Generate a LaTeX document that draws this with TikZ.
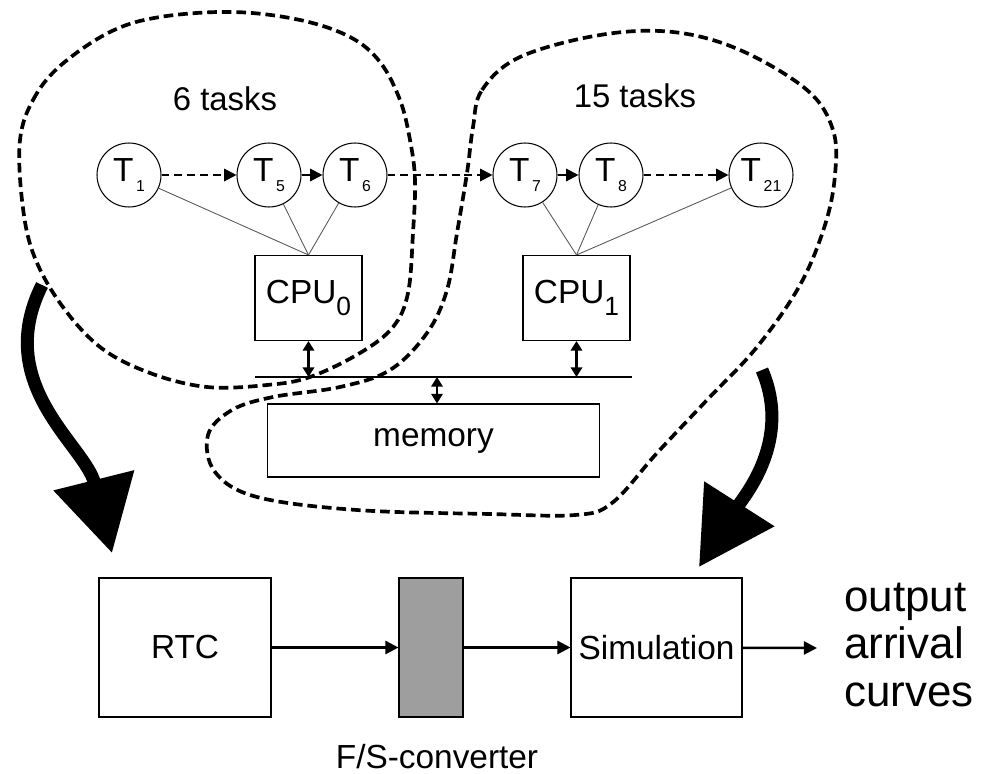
\documentclass[tikz,border=0pt]{standalone}
\usepackage{fontspec}
\setmainfont{Liberation Sans}
\usetikzlibrary{arrows.meta}
% pedici dei task e delle CPU
\newcommand{\tpedice}[1]{\raisebox{-0.6ex}{\fontsize{9}{9}\selectfont\,#1}}
\newcommand{\cpedice}[1]{\raisebox{-0.7ex}{\fontsize{15}{15}\selectfont #1}}
\tikzset{
  task/.style={circle, draw, line width=0.6pt, minimum size=1.28cm, inner sep=0pt,
    font=\fontsize{19}{19}\selectfont},
  box/.style={draw, line width=0.6pt, inner sep=0pt, font=\fontsize{19}{19}\selectfont},
  blob/.style={line width=2.1pt, dash pattern=on 5.5pt off 2.8pt},
  flusso/.style={line width=1.2pt, -{Triangle[length=7pt,width=7pt]}},
  tratto/.style={dash pattern=on 4.5pt off 2.8pt},
  assegna/.style={line width=0.5pt, gray!70!black},
  bidir/.style={line width=1.2pt, {Triangle[length=5.5pt,width=6.5pt]}-{Triangle[length=5.5pt,width=6.5pt]}},
  freccia/.style={line width=1.4pt, -{Triangle[length=7.5pt,width=7.5pt]}},
  grossa/.style={line width=7.4pt, -{Triangle[length=1.5cm,width=1.6cm]}}
}
\begin{document}
\begin{tikzpicture}[x=0.02cm, y=-0.02cm]
        \useasboundingbox (0,0) rectangle (981,774);
        % Regioni tratteggiate
        \draw[blob] plot[smooth cycle, tension=0.6] coordinates {
          (20,140) (33,100) (60,66) (110,32) (160,17) (233,12) (300,20) (350,37)
          (380,62) (400,100) (410,140) (415,180) (413,233) (408,293) (393,327)
          (360,353) (310,377) (267,385) (207,387) (150,373) (100,347) (60,303)
          (33,253) (22,200)};
        \draw[blob] plot[smooth cycle, tension=0.6] coordinates {
          (473,127) (482,90) (520,57) (600,35) (673,32) (740,50) (807,90)
          (833,130) (835,175) (825,225) (800,285) (757,347) (707,400)
          (657,453) (612,503) (575,515) (490,514) (357,510) (257,497)
          (215,472) (208,435) (232,410) (273,397) (340,387) (390,370)
          (427,333) (447,290) (457,233) (467,173)};
        % Etichette
        \node[anchor=base, font=\fontsize{18.7}{18.7}\selectfont] (lab6) at (225,110) {6 tasks};
        \node[anchor=base, font=\fontsize{18.7}{18.7}\selectfont] (lab15) at (635,107) {15 tasks};
        % Task
        \node[task] (t1) at (129,175) {T\tpedice{1}};
        \node[task] (t5) at (269,175) {T\tpedice{5}};
        \node[task] (t6) at (355,175) {T\tpedice{6}};
        \node[task] (t7) at (525,175) {T\tpedice{7}};
        \node[task] (t8) at (611,175) {T\tpedice{8}};
        \node[task] (t21) at (761,175) {T\tpedice{21}};
        \draw[flusso, tratto] (t1) -- (t5);
        \draw[flusso] (t5) -- (t6);
        \draw[flusso, tratto] (t6) -- (t7);
        \draw[flusso] (t7) -- (t8);
        \draw[flusso, tratto] (t8) -- (t21);
        % Processori e memoria
        \node[box, minimum width=2.14cm, minimum height=1.7cm] (cpu0) at (308.5,298) {CPU\cpedice{0}};
        \node[box, minimum width=2.14cm, minimum height=1.7cm] (cpu1) at (576.5,298) {CPU\cpedice{1}};
        \node[box, minimum width=6.66cm, minimum height=1.46cm] (mem) at (433.5,440.5) {memory};
        \foreach \t in {t1,t5,t6} \draw[assegna] (\t) -- (cpu0.north);
        \foreach \t in {t7,t8,t21} \draw[assegna] (\t) -- (cpu1.north);
        % Bus
        \coordinate (busL) at (255,377);
        \coordinate (busR) at (632,377);
        \coordinate (busM) at (437,377);
        \draw[line width=0.7pt] (busL) -- (busR);
        \draw[bidir] (cpu0.south) -- (cpu0.south |- busL);
        \draw[bidir] (cpu1.south) -- (cpu1.south |- busL);
        \draw[bidir] (busM) -- (busM |- mem.north);
        % Catena di analisi
        \node[box, minimum width=3.44cm, minimum height=2.78cm] (rtc) at (185,647.5) {RTC};
        \node[box, fill=black!38, minimum width=1.28cm, minimum height=2.78cm] (conv) at (431,647.5) {};
        \node[box, minimum width=3.42cm, minimum height=2.78cm] (sim) at (656.5,647.5) {Simulation};
        \node[anchor=base, font=\fontsize{19}{19}\selectfont] (convlab) at (437,768) {F/S-converter};
        \coordinate (fine) at (817,648);
        \node[anchor=west, align=left, font=\fontsize{25}{27}\selectfont] (out) at (838,645) {output\\arrival\\curves};
        \draw[freccia] (rtc) -- (conv);
        \draw[freccia] (conv) -- (sim);
        \draw[freccia] (sim) -- (fine);
        % Frecce grosse
        \coordinate (a0) at (42,285);
        \coordinate (a1) at (112,553);
        \coordinate (b0) at (762,370);
        \coordinate (b1) at (699,567);
        \draw[grossa] (a0) .. controls (-8,385) and (85,445) .. (a1);
        \draw[grossa] (b0) .. controls (792,440) and (745,495) .. (b1);
\end{tikzpicture}
\end{document}
